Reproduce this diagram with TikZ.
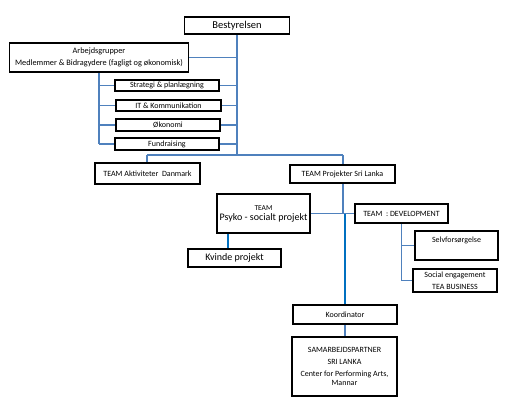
\documentclass[tikz,border=0pt]{standalone}
\usepackage{fontspec}
\setmainfont{Carlito}
\usetikzlibrary{backgrounds}
\definecolor{lnA}{HTML}{4F81BD}
\definecolor{lnB}{HTML}{0070C0}
\tikzset{
  x=1pt,y=-1pt,
  box/.style={draw=black,line width=1.6pt,fill=white,inner sep=0pt,align=center,font=\fontsize{8}{9}\selectfont},
  conA/.style={draw=lnA,line width=1.5pt},
  conB/.style={draw=lnB,line width=1.8pt},
}
\begin{document}
\begin{tikzpicture}
\useasboundingbox (0,0) rectangle (508,408);
\coordinate (c1) at (237,155);
\coordinate (c2) at (147,155);
\coordinate (c3) at (343,155);
\coordinate (c4) at (237,58);
\coordinate (d1) at (343,213.5);
\coordinate (d2) at (345,213.5);
\coordinate (k0) at (228,0);

\node[box,minimum width=105,minimum height=17,font=\fontsize{10.5}{12}\selectfont] (best) at (237,25.5) {Bestyrelsen};
\node[box,minimum width=179,minimum height=29,font=\fontsize{8.3}{12}\selectfont] (arb) at (99,57.5) {Arbejdsgrupper\\Medlemmer \& Bidragydere (fagligt og økonomisk)};
\node[box,minimum width=104,minimum height=11.5] (strat) at (167,85.5) {Strategi \& planlægning};
\node[box,minimum width=105,minimum height=11.5] (it) at (168.5,105.5) {IT \& Kommunikation};
\node[box,minimum width=104,minimum height=11.5] (oko) at (168,125) {Økonomi};
\node[box,minimum width=104,minimum height=11.5] (fund) at (167,144) {Fundraising};
\node[box,minimum width=105,minimum height=21] (akt) at (147.5,173.5) {TEAM Aktiviteter~ Danmark};
\node[box,minimum width=105,minimum height=18] (proj) at (342.5,174) {TEAM Projekter Sri Lanka};
\node[box,minimum width=93,minimum height=39,font=\fontsize{7.5}{9}\selectfont] (psy) at (263.5,213.5) {TEAM\\[1pt]{\fontsize{10}{12}\selectfont Psyko - socialt projekt}};
\node[box,minimum width=93,minimum height=18,font=\fontsize{10}{12}\selectfont] (kvi) at (234.5,258) {Kvinde projekt};
\node[box,minimum width=93,minimum height=19] (dev) at (401.5,213.5) {TEAM~ : DEVELOPMENT};
\node[box,minimum width=83,minimum height=29] (selv) at (456.5,245.5) {};
\node[font=\fontsize{8}{9}\selectfont,anchor=north] (selvt) at (456.5,233.5) {Selvforsørgelse};
\node[box,minimum width=84,minimum height=23,font=\fontsize{8}{12}\selectfont] (soc) at (455,280.5) {Social engagement\\TEA BUSINESS};
\node[box,minimum width=104,minimum height=19] (koo) at (345,314.5) {Koordinator};
\node[box,minimum width=105,minimum height=59,font=\fontsize{8}{12}\selectfont] (sam) at (344.5,366.5) {SAMARBEJDSPARTNER\\SRI LANKA\\Center for Performing Arts,\\[-3pt]Mannar};

\begin{scope}[on background layer]
\fill[white] (0,0) rectangle (508,408);
\draw[conA] (best.south) -- (c1);
\draw[conA] (arb.east) -- (arb.east -| c4);
\draw[conA] (strat.east) -- (strat.east -| c1);
\draw[conA] (it.east) -- (it.east -| c1);
\draw[conA] (oko.east) -- (oko.east -| c1);
\draw[conA] (fund.east) -- (fund.east -| c1);
\draw[conA] (arb.south) -- (fund.west -| arb.south);
\draw[conA] (strat.west -| arb.south) -- (strat.west);
\draw[conA] (it.west -| arb.south) -- (it.west);
\draw[conA] (oko.west -| arb.south) -- (oko.west);
\draw[conA] (fund.west -| arb.south) -- (fund.west);
\draw[conA] (c2) -- (c3);
\draw[conA] (c2) -- (akt.north -| c2);
\draw[conA] (c3) -- (proj.north -| c3);
\draw[conA] (proj.south -| c3) -- (d1);
\draw[conA] (psy.east) -- (dev.west);
\draw[conB] (d2) -- (koo.north -| d2);
\draw[conA] (koo.south -| d2) -- (sam.north -| d2);
\draw[conB] (psy.south -| k0) -- (kvi.north -| k0);
\draw[conA] (dev.south) -- (soc.west -| dev.south);
\draw[conA] (selv.west -| dev.south) -- (selv.west);
\draw[conA] (soc.west -| dev.south) -- (soc.west);
\end{scope}
\end{tikzpicture}
\end{document}
